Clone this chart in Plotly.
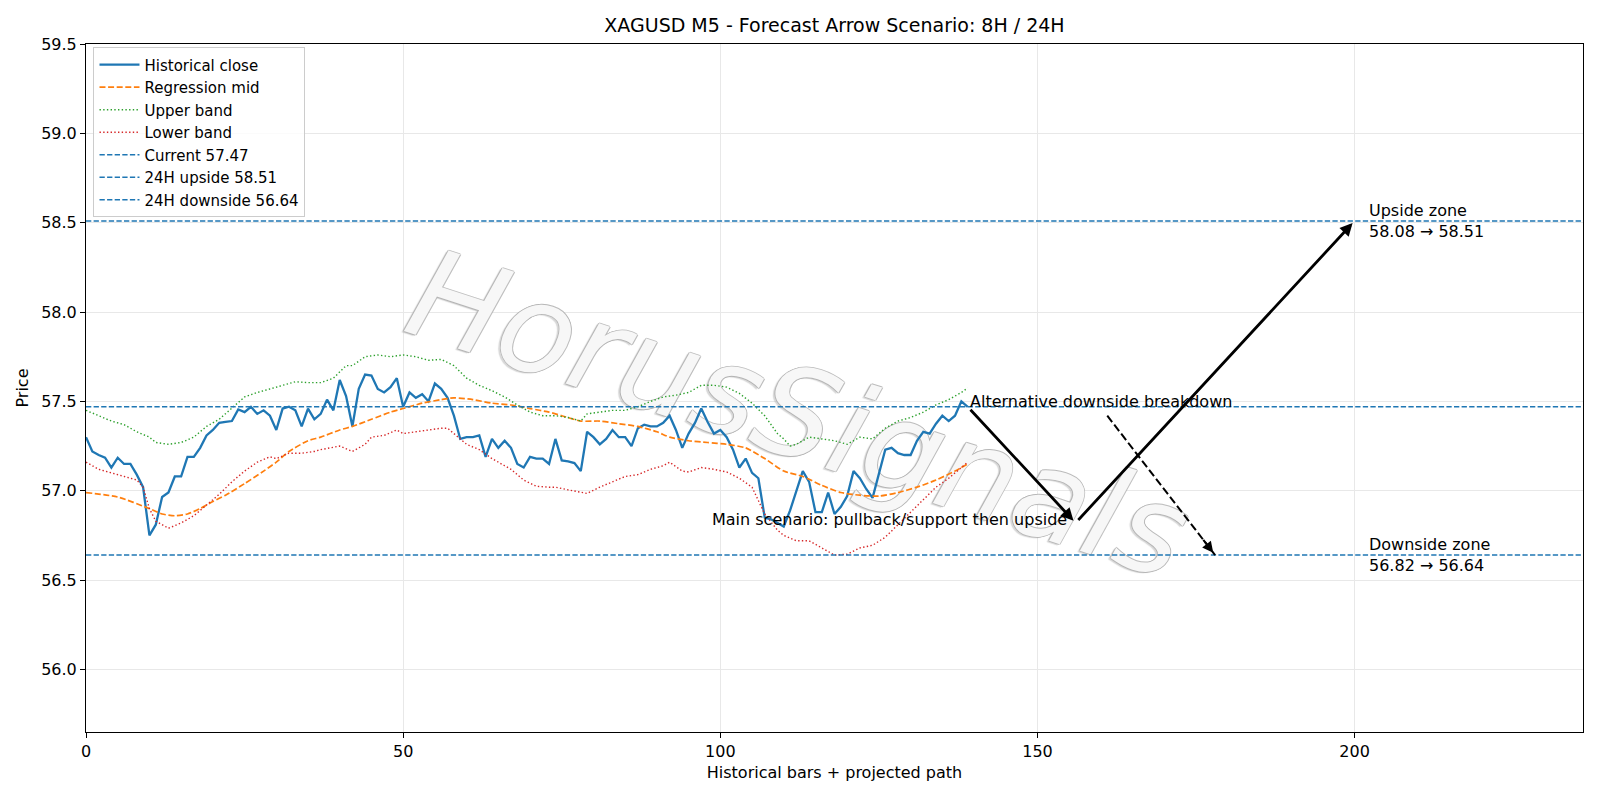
import plotly.graph_objects as go

# ---------------- data ----------------
hist_close = [
    57.30, 57.22, 57.20, 57.185, 57.13, 57.185, 57.15, 57.15, 57.09, 57.02,
    56.75, 56.81, 56.965, 56.99, 57.08, 57.08, 57.19, 57.19, 57.24, 57.31,
    57.34, 57.38, 57.385, 57.39, 57.455, 57.44, 57.47, 57.43, 57.45, 57.42,
    57.34, 57.46, 57.47, 57.45, 57.36, 57.46, 57.40, 57.43, 57.51, 57.45,
    57.62, 57.53, 57.36, 57.57, 57.65, 57.645, 57.57, 57.55, 57.58, 57.63,
    57.47, 57.55, 57.52, 57.54, 57.50, 57.60, 57.57, 57.52, 57.42, 57.29,
    57.30, 57.30, 57.31, 57.19, 57.29, 57.24, 57.28, 57.24, 57.15, 57.13,
    57.19, 57.18, 57.18, 57.15, 57.29, 57.17, 57.165, 57.155, 57.11, 57.33,
    57.30, 57.26, 57.29, 57.34, 57.30, 57.30, 57.25, 57.35, 57.37, 57.36,
    57.36, 57.38, 57.42, 57.34, 57.24, 57.32, 57.38, 57.46, 57.385, 57.32,
    57.34, 57.30, 57.23, 57.13, 57.18, 57.10, 57.07, 56.85, 56.84, 56.82,
    56.80, 56.89, 57.00, 57.11, 57.05, 56.88, 56.88, 56.99, 56.87, 56.91,
    56.97, 57.11, 57.07, 57.01, 56.96, 57.09, 57.23, 57.24, 57.21, 57.20,
    57.20, 57.28, 57.33, 57.32, 57.375, 57.42, 57.39, 57.42, 57.50, 57.47,
]
hist_x = list(range(len(hist_close)))

mid_x = [0, 5, 10, 12, 14, 16, 18, 20, 22, 25, 28, 30, 32, 35, 37, 40, 42, 45, 48, 50,
         53, 56, 58, 61, 64, 67, 70, 73, 75, 78, 81, 84, 87, 90, 92, 95, 98, 101, 104, 107,
         110, 113, 116, 119, 122, 125, 128, 131, 134, 137, 139]
mid_y = [56.99, 56.965, 56.90, 56.87, 56.86, 56.87, 56.90, 56.94, 56.975, 57.04, 57.11, 57.16,
         57.22, 57.28, 57.30, 57.34, 57.36, 57.40, 57.44, 57.46, 57.49, 57.51, 57.52, 57.51,
         57.49, 57.48, 57.46, 57.44, 57.42, 57.39, 57.39, 57.375, 57.36, 57.33, 57.30, 57.28,
         57.27, 57.26, 57.24, 57.18, 57.11, 57.08, 57.03, 56.99, 56.975, 56.97, 56.99, 57.02,
         57.06, 57.11, 57.15]

upper_x = [0, 2, 4, 6, 8, 10, 11, 13, 15, 17, 19, 21, 23, 25, 27, 29, 31, 33, 35, 37,
           39, 41, 42, 44, 46, 48, 50, 52, 54, 56, 58, 60, 62, 64, 66, 68, 70, 72, 74, 76,
           78, 79, 81, 83, 85, 87, 89, 91, 93, 95, 97, 99, 101, 103, 105, 107, 109, 110, 111, 112,
           114, 116, 118, 120, 122, 124, 126, 128, 130, 132, 134, 136, 138, 139]
upper_y = [57.45, 57.42, 57.39, 57.37, 57.33, 57.30, 57.27, 57.26, 57.27, 57.30, 57.36, 57.40,
           57.46, 57.525, 57.55, 57.57, 57.59, 57.61, 57.605, 57.605, 57.63, 57.70, 57.70, 57.75,
           57.76, 57.75, 57.76, 57.75, 57.73, 57.735, 57.70, 57.63, 57.59, 57.56, 57.525, 57.48,
           57.44, 57.42, 57.42, 57.41, 57.39, 57.43, 57.44, 57.45, 57.45, 57.47, 57.50, 57.525,
           57.535, 57.55, 57.59, 57.59, 57.58, 57.545, 57.49, 57.42, 57.32, 57.29, 57.25, 57.26,
           57.30, 57.29, 57.28, 57.26, 57.30, 57.29, 57.35, 57.39, 57.41, 57.44, 57.48, 57.51,
           57.55, 57.575]

lower_x = [0, 2, 4, 6, 8, 9, 10, 11, 13, 15, 17, 19, 21, 23, 25, 27, 29, 30, 32, 34,
           36, 37, 40, 42, 44, 45, 47, 49, 50, 52, 54, 56, 57, 58, 60, 62, 64, 66, 67, 69,
           71, 73, 74, 76, 78, 79, 81, 83, 85, 87, 89, 91, 92, 94, 95, 97, 99, 101, 103, 105,
           107, 109, 110, 112, 114, 116, 118, 120, 122, 124, 126, 128, 130, 132, 134, 136, 138, 139]
lower_y = [57.16, 57.12, 57.10, 57.08, 57.06, 57.02, 56.90, 56.83, 56.79, 56.82, 56.86, 56.92,
           56.98, 57.05, 57.11, 57.16, 57.19, 57.18, 57.21, 57.21, 57.22, 57.23, 57.25, 57.22,
           57.26, 57.30, 57.31, 57.34, 57.32, 57.33, 57.34, 57.35, 57.35, 57.32, 57.26, 57.23,
           57.18, 57.14, 57.12, 57.06, 57.025, 57.02, 57.02, 57.005, 56.99, 56.985, 57.02, 57.05,
           57.08, 57.09, 57.12, 57.14, 57.16, 57.11, 57.105, 57.13, 57.12, 57.105, 57.07, 57.02,
           56.87, 56.78, 56.75, 56.72, 56.72, 56.68, 56.64, 56.645, 56.68, 56.695, 56.74, 56.81,
           56.88, 56.95, 57.02, 57.07, 57.13, 57.16]

current_price = 57.47
upside_24h = 58.51
downside_24h = 56.64
upside_8h = 58.08
downside_8h = 56.82

x_max = 236
y_min, y_max = 55.65, 59.5

# scenario paths (bar index, price)
main_path_x = [139, 156, 200]
main_path_y = [57.47, 56.82, 58.51]
alt_path_x = [161, 178]
alt_path_y = [57.42, 56.64]

x_ticks = [0, 50, 100, 150, 200]
y_ticks = [56.0, 56.5, 57.0, 57.5, 58.0, 58.5, 59.0, 59.5]

watermark_text = "HorusSignals"

FONT = "DejaVu Sans"
FS = 16
BLUE, ORANGE, GREEN, RED = "#1f77b4", "#ff7f0e", "#2ca02c", "#d62728"

fig = go.Figure()

# watermark: an invisible bar carrying rotated text, so that it sits below the line traces
wm_cx = x_max * 0.476
wm_cy = y_min + (y_max - y_min) * 0.462
wm_h = 2.3
GREY_EDGE = "rgba(175,175,175,0.9)"
fig.add_trace(go.Bar(
    x=[wm_cx], y=[wm_h], base=[wm_cy - wm_h / 2], width=[200],
    marker=dict(color="rgba(0,0,0,0)", line=dict(width=0)),
    text=[watermark_text], textposition="inside", insidetextanchor="middle",
    textangle=18, constraintext="none", cliponaxis=False,
    insidetextfont=dict(family=FONT, size=124, color="rgba(255,255,255,0.9)", style="italic",
                        shadow=f"1px 0 0 {GREY_EDGE}, -1px 0 0 {GREY_EDGE}, 0 1px 0 {GREY_EDGE}, "
                               f"0 -1px 0 {GREY_EDGE}, -2px 2px 1px rgba(175,175,175,0.55)"),
    showlegend=False, hoverinfo="skip",
))

fig.add_trace(go.Scatter(x=hist_x, y=hist_close, mode="lines", name="Historical close",
                         line=dict(color=BLUE, width=2.3)))
fig.add_trace(go.Scatter(x=mid_x, y=mid_y, mode="lines", name="Regression mid",
                         line=dict(color=ORANGE, width=1.7, dash="6px,2.6px", shape="spline", smoothing=0.6)))
fig.add_trace(go.Scatter(x=upper_x, y=upper_y, mode="lines", name="Upper band",
                         line=dict(color=GREEN, width=1.4, dash="1.4px,2.3px")))
fig.add_trace(go.Scatter(x=lower_x, y=lower_y, mode="lines", name="Lower band",
                         line=dict(color=RED, width=1.4, dash="1.4px,2.3px")))
for name, lvl in [(f"Current {current_price:.2f}", current_price),
                  (f"24H upside {upside_24h:.2f}", upside_24h),
                  (f"24H downside {downside_24h:.2f}", downside_24h)]:
    fig.add_trace(go.Scatter(x=[0, x_max], y=[lvl, lvl], mode="lines", name=name,
                             line=dict(color=BLUE, width=1.5, dash="5.3px,2.3px")))

# alternative dashed path (line part)
fig.add_trace(go.Scatter(x=alt_path_x, y=alt_path_y, mode="lines", showlegend=False,
                         hoverinfo="skip", line=dict(color="black", width=2.0, dash="8px,3.4px")))

annotations = []
# main path arrows
for i in range(len(main_path_x) - 1):
    annotations.append(dict(x=main_path_x[i + 1], y=main_path_y[i + 1],
                            ax=main_path_x[i], ay=main_path_y[i],
                            xref="x", yref="y", axref="x", ayref="y",
                            text="", showarrow=True, arrowhead=2, arrowsize=0.9,
                            arrowwidth=2.8, arrowcolor="black", standoff=3, startstandoff=2))
# alternative arrow head
dxa = alt_path_x[1] - alt_path_x[0]
dya = alt_path_y[1] - alt_path_y[0]
annotations.append(dict(x=alt_path_x[1], y=alt_path_y[1],
                        ax=alt_path_x[1] - 0.12 * dxa, ay=alt_path_y[1] - 0.12 * dya,
                        xref="x", yref="y", axref="x", ayref="y",
                        text="", showarrow=True, arrowhead=2, arrowsize=1.1,
                        arrowwidth=2.0, arrowcolor="black", standoff=3))

txt_font = dict(family=FONT, size=FS, color="black")
annotations += [
    dict(x=main_path_x[1] - 1.0, y=main_path_y[1] + 0.02, xref="x", yref="y",
         text="Main scenario: pullback/support then upside", showarrow=False,
         xanchor="right", yanchor="middle", font=txt_font),
    dict(x=main_path_x[0], y=current_price + 0.027, xref="x", yref="y",
         text="Alternative downside breakdown", showarrow=False,
         xanchor="left", yanchor="middle", font=txt_font),
    dict(x=202, y=upside_24h, xref="x", yref="y",
         text=f"Upside zone<br>{upside_8h:.2f} → {upside_24h:.2f}", showarrow=False,
         xanchor="left", yanchor="middle", align="left", font=txt_font),
    dict(x=202, y=downside_24h, xref="x", yref="y",
         text=f"Downside zone<br>{downside_8h:.2f} → {downside_24h:.2f}", showarrow=False,
         xanchor="left", yanchor="middle", align="left", font=txt_font),
]

axis_common = dict(showline=True, mirror=True, linecolor="black", linewidth=1.1,
                   ticks="outside", ticklen=5, tickwidth=1.1, tickcolor="black",
                   showgrid=True, gridcolor="#e8e8e8", gridwidth=1, zeroline=False,
                   tickfont=dict(family=FONT, size=FS, color="black"))

fig.update_layout(
    width=1600, height=800,
    margin=dict(l=86, r=17, t=44, b=68),
    paper_bgcolor="white", plot_bgcolor="white",
    title=dict(text="XAGUSD M5 - Forecast Arrow Scenario: 8H / 24H", xref="paper", x=0.5,
               xanchor="center", yref="container", y=1 - 25 / 800, yanchor="middle",
               font=dict(family=FONT, size=19, color="black")),
    xaxis=dict(range=[0, x_max], tickvals=x_ticks, ticktext=[str(v) for v in x_ticks],
               title=dict(text="Historical bars + projected path", standoff=6,
                          font=dict(family=FONT, size=FS, color="black")), **axis_common),
    yaxis=dict(range=[y_min, y_max], tickvals=y_ticks, ticktext=[f"{v:.1f}" for v in y_ticks],
               title=dict(text="Price", standoff=8, font=dict(family=FONT, size=FS, color="black")),
               **axis_common),
    legend=dict(x=0.005, y=0.995, xanchor="left", yanchor="top", bgcolor="rgba(255,255,255,0.8)",
                bordercolor="#cccccc", borderwidth=1, font=dict(family=FONT, size=15, color="black"),
                tracegroupgap=0, itemwidth=40),
    annotations=annotations,
    showlegend=True,
    barmode="overlay",
)

fig.write_html("out.html")
